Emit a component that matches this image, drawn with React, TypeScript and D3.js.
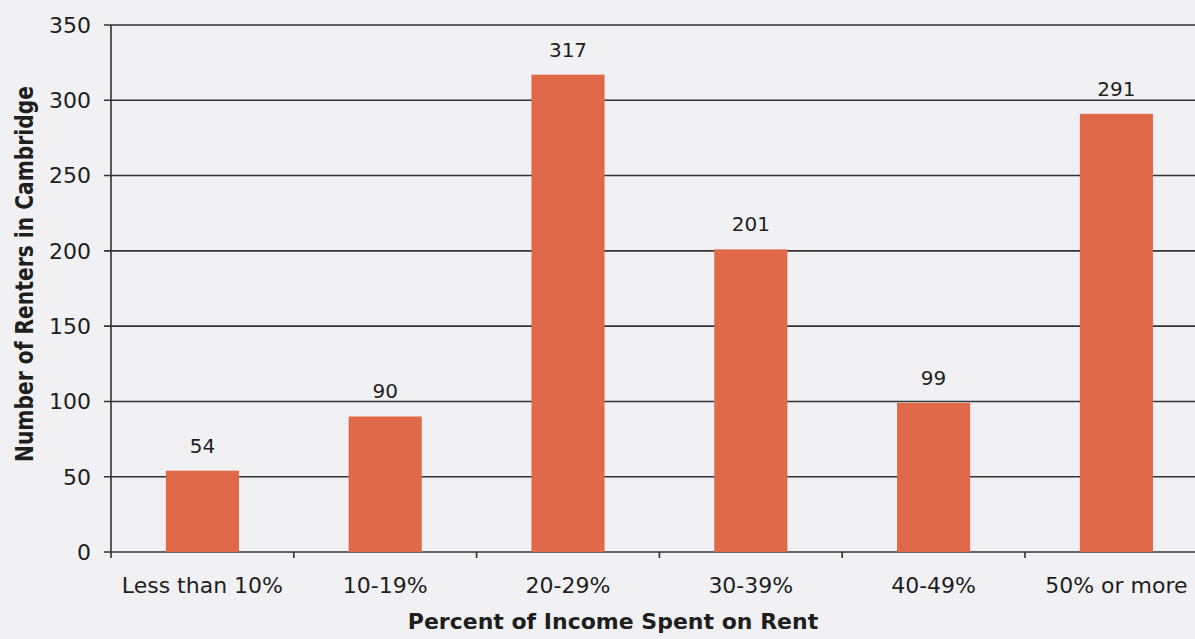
import React from "react";
import * as d3 from "d3";

const categories = ["Less than 10%", "10-19%", "20-29%", "30-39%", "40-49%", "50% or more"];
const values = [54, 90, 317, 201, 99, 291];
const yTicks = [0, 50, 100, 150, 200, 250, 300, 350];

const W = 1195;
const H = 639;
const FONT = "'DejaVu Sans', sans-serif";

export default function App() {
  const left = 111;
  const step = 182.8;
  const x = d3
    .scaleBand<string>()
    .domain(categories)
    .range([left, left + step * categories.length])
    .padding(0);
  const y = d3.scaleLinear().domain([0, 350]).range([552, 25]);
  const bw = x.bandwidth() * 0.4;
  const boundaries = categories.map((c) => (x(c) as number) + x.bandwidth());

  return (
    <svg
      width={W}
      height={H}
      style={{ position: "absolute", left: 0, top: 0, background: "#f1f0f3" }}
      fontFamily={FONT}
    >
      <rect x={0} y={0} width={W} height={H} fill="#f1f0f3" />
      {yTicks.map((t) => (
        <g key={t}>
          <line x1={104} x2={W} y1={y(t)} y2={y(t)} stroke="#333" strokeWidth={1.6} />
          <text x={91} y={y(t)} dy="0.36em" textAnchor="end" fontSize={22} fill="#1e1e1e">
            {t}
          </text>
        </g>
      ))}
      <line x1={left} x2={left} y1={y(350)} y2={y(0) + 6} stroke="#333" strokeWidth={1.6} />
      {boundaries.map((b, i) => (
        <line key={i} x1={b} x2={b} y1={y(0)} y2={y(0) + 6} stroke="#333" strokeWidth={1.6} />
      ))}
      {categories.map((c, i) => {
        const cx = (x(c) as number) + x.bandwidth() / 2;
        return (
          <g key={c}>
            <rect
              x={cx - bw / 2}
              y={y(values[i])}
              width={bw}
              height={y(0) - y(values[i])}
              fill="#e0694a"
            />
            <text x={cx} y={y(values[i]) - 18} textAnchor="middle" fontSize={20} fill="#1e1e1e">
              {values[i]}
            </text>
            <text x={cx} y={593} textAnchor="middle" fontSize={22} fill="#1e1e1e">
              {c}
            </text>
          </g>
        );
      })}
      <text
        x={613}
        y={629}
        textAnchor="middle"
        fontSize={22}
        fontWeight="bold"
        fill="#1e1e1e"
      >
        Percent of Income Spent on Rent
      </text>
      <text
        transform={`translate(33,274) rotate(-90)`}
        textAnchor="middle"
        fontSize={24}
        fontWeight="bold"
        fill="#1e1e1e"
        textLength={376}
        lengthAdjust="spacingAndGlyphs"
      >
        Number of Renters in Cambridge
      </text>
    </svg>
  );
}
